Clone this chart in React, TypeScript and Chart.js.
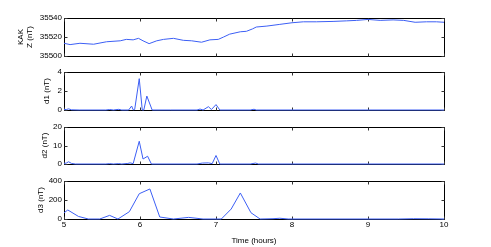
import React, { useEffect, useRef } from "react";
import { Chart, registerables } from "chart.js";
Chart.register(...registerables);

const W = 491;
const H = 247;

const xTickValues = [5, 6, 7, 8, 9, 10];

const zTimes = [5.0, 5.08, 5.21, 5.39, 5.56, 5.74, 5.82, 5.91, 5.98, 6.04, 6.12, 6.22, 6.31, 6.44, 6.57, 6.68, 6.81, 6.92, 7.03, 7.1, 7.18, 7.32, 7.4, 7.48, 7.53, 7.67, 7.84, 8.0, 8.15, 8.32, 8.54, 8.72, 8.85, 9.0, 9.16, 9.33, 9.47, 9.62, 9.77, 9.9, 10.0];
const zValues = [35513.4, 35512, 35513.4, 35512.4, 35515, 35516, 35517.5, 35517, 35518.6, 35516, 35513, 35516, 35517.5, 35518.6, 35516.5, 35516, 35514.5, 35517, 35517.5, 35520, 35523, 35525.5, 35526, 35528.5, 35530.5, 35531.5, 35533.3, 35535, 35536, 35536, 35536.4, 35537, 35537.5, 35538.5, 35537.5, 35538, 35537.5, 35535.5, 35536, 35536, 35535.5];

const d1Times = [5.0, 5.03, 5.06, 5.1, 5.2, 5.55, 5.6, 5.65, 5.72, 5.76, 5.85, 5.89, 5.91, 5.93, 5.99, 6.03, 6.05, 6.09, 6.16, 6.4, 6.75, 6.79, 6.83, 6.9, 6.94, 7.0, 7.05, 7.45, 7.5, 7.53, 10.0];
const d1Values = [0.05, 0.05, 0.12, 0.02, 0, 0, 0.05, 0, 0.07, 0, 0, 0.42, 0.02, 0.05, 3.3, 0, 0, 1.47, 0, 0, 0, 0.1, 0, 0.35, 0.05, 0.57, 0, 0, 0.08, 0, 0];

const d2Times = [5.0, 5.03, 5.06, 5.1, 5.15, 5.55, 5.6, 5.65, 5.72, 5.76, 5.84, 5.87, 5.91, 5.99, 6.04, 6.1, 6.15, 6.75, 6.82, 6.9, 6.95, 7.0, 7.05, 7.45, 7.52, 7.56, 10.0];
const d2Values = [0.3, 0.5, 1.2, 0.3, 0, 0, 0.2, 0, 0.2, 0, 0.3, 0.6, 0.2, 12.3, 2.7, 4.2, 0, 0, 0.5, 0.6, 0.2, 4.6, 0, 0, 0.5, 0, 0];

const d3Times = [5.0, 5.05, 5.19, 5.32, 5.47, 5.6, 5.71, 5.86, 5.99, 6.13, 6.26, 6.44, 6.64, 6.83, 7.07, 7.2, 7.32, 7.46, 7.58, 7.75, 7.84, 7.95, 9.4, 9.6, 9.8, 10.0];
const d3Values = [65, 95, 27, 0, 0, 38, 0, 77, 266, 316, 21, 0, 17, 0, 0, 105, 274, 66, 0, 3, 8, 0, 0, 3, 2, 0];

const panels = [
  { times: zTimes, values: zValues, min: 35500, max: 35540, step: 20, label: ["KAK", "Z (nT)"], labelPad: 20.5, top: 18, bottom: 56, showX: false },
  { times: d1Times, values: d1Values, min: 0, max: 4, step: 2, label: "d1 (nT)", labelPad: 46.5, top: 72, bottom: 110, showX: false },
  { times: d2Times, values: d2Values, min: 0, max: 20, step: 10, label: "d2 (nT)", labelPad: 44.5, top: 127, bottom: 164, showX: false },
  { times: d3Times, values: d3Values, min: 0, max: 400, step: 200, label: "d3 (nT)", labelPad: 41, top: 181, bottom: 219, showX: true },
];

const FONT = "'Liberation Sans', Arial, Helvetica, sans-serif";

const boxPlugin = {
  id: "matlabBox",
  beforeDatasetsDraw(chart: any) {
    const { ctx, chartArea: a, scales } = chart;
    const L = Math.round(a.left) + 0.5;
    const R = Math.round(a.right) + 0.5;
    const T = Math.round(a.top) + 0.5;
    const B = Math.round(a.bottom) + 0.5;
    ctx.save();
    ctx.strokeStyle = "#000";
    ctx.lineWidth = 1;
    ctx.strokeRect(L, T, R - L, B - T);
    ctx.strokeStyle = "#333";
    const tl = 3;
    ctx.beginPath();
    scales.x.ticks.forEach((t: any) => {
      const px = Math.round(scales.x.getPixelForValue(t.value)) + 0.5;
      ctx.moveTo(px, T);
      ctx.lineTo(px, T + tl);
      ctx.moveTo(px, B);
      ctx.lineTo(px, B - tl);
    });
    scales.y.ticks.forEach((t: any) => {
      const py = Math.round(scales.y.getPixelForValue(t.value)) + 0.5;
      ctx.moveTo(L, py);
      ctx.lineTo(L + tl, py);
      ctx.moveTo(R, py);
      ctx.lineTo(R - tl, py);
    });
    ctx.stroke();
    ctx.restore();
  },
};

function Panel({ p }: { p: any }) {
  const ref = useRef<HTMLCanvasElement | null>(null);
  useEffect(() => {
    if (!ref.current) return;
    const data = p.times.map((t: number, i: number) => ({ x: t, y: p.values[i] }));
    const chart = new Chart(ref.current, {
      type: "line",
      data: {
        datasets: [
          {
            data,
            borderColor: "rgb(60,95,245)",
            borderWidth: 1,
            pointRadius: 0,
            tension: 0,
            clip: false as any,
          },
        ],
      },
      options: {
        responsive: false,
        animation: false,
        devicePixelRatio: 1,
        layout: { padding: { top: p.top, left: 0, right: W - 444, bottom: 0 } },
        plugins: { legend: { display: false }, tooltip: { enabled: false } },
        events: [],
        scales: {
          x: {
            type: "linear",
            min: 5,
            max: 10,
            grid: { display: false, drawTicks: false },
            border: { display: false },
            ticks: {
              display: p.showX,
              stepSize: 1,
              padding: 1,
              color: "#000",
              font: { family: FONT, size: 8 },
              maxRotation: 0,
              callback: (v: any) => String(v),
            },
            title: {
              display: p.showX,
              text: "Time (hours)",
              color: "#000",
              font: { family: FONT, size: 8 },
              padding: { top: 0, bottom: 1 },
            },
            afterFit: (s: any) => {
              s.height = H - p.bottom;
            },
          },
          y: {
            type: "linear",
            min: p.min,
            max: p.max,
            grid: { display: false, drawTicks: false },
            border: { display: false },
            ticks: {
              stepSize: p.step,
              padding: 2,
              color: "#000",
              font: { family: FONT, size: 8 },
              callback: (v: any) => String(v),
            },
            title: {
              display: true,
              text: p.label,
              color: "#000",
              font: { family: FONT, size: 8, lineHeight: 1.15 },
              padding: { top: p.labelPad - 4.6, bottom: 0 },
            },
            afterFit: (s: any) => {
              s.width = 64;
            },
          },
        },
      },
      plugins: [boxPlugin],
    } as any);
    return () => chart.destroy();
  }, [p]);
  return (
    <canvas
      ref={ref}
      width={W}
      height={H}
      style={{ position: "absolute", left: 0, top: 0, width: W, height: H }}
    />
  );
}

export default function App() {
  return (
    <div
      style={{
        position: "fixed",
        left: 0,
        top: 0,
        width: W,
        height: H,
        background: "#fff",
        overflow: "hidden",
      }}
    >
      {panels.map((p, i) => (
        <Panel key={i} p={p} />
      ))}
    </div>
  );
}
